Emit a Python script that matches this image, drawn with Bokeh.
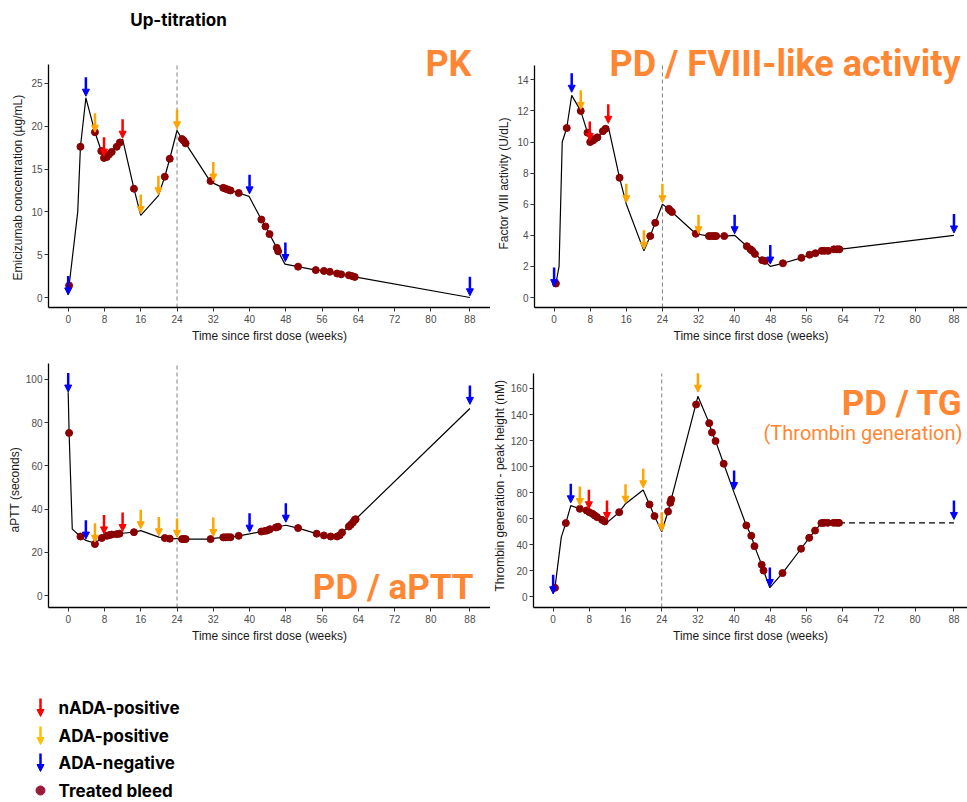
from bokeh.plotting import figure
from bokeh.layouts import column, row
from bokeh.models import Range1d, FixedTicker, Label, Arrow, NormalHead, ColumnDataSource, Title
from bokeh.embed import file_html
from bokeh.resources import INLINE

# ------------------------------------------------------------------ data
week_ticks = [0, 8, 16, 24, 32, 40, 48, 56, 64, 72, 80, 88.6]
week_tick_labels = ["0", "8", "16", "24", "32", "40", "48", "56", "64", "72", "80", "88"]
uptitration_end = 24

# PK (emicizumab concentration, ug/mL)
pk_line_x = [0, 0.2, 2.1, 2.7, 3.9, 5.9, 7.3, 7.9, 8.5, 9.0, 9.6, 10.7, 11.4, 12.0, 14.5, 16, 19.9, 21.3, 22.4, 24,
             25.1, 25.5, 25.9, 31.4, 34.2, 34.7, 35.2, 35.8, 37.6, 39.9, 42.6, 43.5, 44.4, 46.0, 46.3, 47.8, 50.7,
             54.6, 56.4, 57.7, 59.3, 60.2, 61.9, 62.6, 63.2, 88.6]
pk_line_y = [0.3, 1.4, 10, 17.6, 23.3, 19.3, 17.1, 16.3, 16.4, 16.7, 17.0, 17.6, 18.1, 18.5, 12.7, 9.6, 11.9, 14.1, 16.2,
             19.5, 18.5, 18.3, 18.0, 13.5, 12.8, 12.7, 12.6, 12.5, 12.2, 11.8, 9.1, 8.3, 7.4, 5.8, 5.4, 3.9, 3.6,
             3.2, 3.1, 3.0, 2.8, 2.7, 2.6, 2.5, 2.4, 0.0]
pk_bleed_x = [0.2, 2.7, 5.9, 7.3, 7.9, 8.5, 9.0, 9.6, 10.7, 11.4, 14.5, 21.3, 22.4, 25.1, 25.5, 25.9, 31.4, 34.2,
              34.7, 35.2, 35.8, 37.6, 42.6, 43.5, 44.4, 46.0, 46.3, 50.7, 54.6, 56.4, 57.7, 59.3, 60.2, 61.9,
              62.6, 63.2]
pk_bleed_y = [1.4, 17.6, 19.3, 17.1, 16.3, 16.4, 16.7, 17.0, 17.6, 18.1, 12.7, 14.1, 16.2, 18.5, 18.3, 18.0, 13.6,
              12.8, 12.7, 12.6, 12.5, 12.2, 9.1, 8.3, 7.4, 5.8, 5.4, 3.6, 3.2, 3.1, 3.0, 2.8, 2.7, 2.6, 2.5, 2.4]
pk_nada_x, pk_nada_y = [7.9, 12.0], [16.5, 18.6]
pk_adapos_x, pk_adapos_y = [5.9, 16, 19.9, 24, 32], [19.3, 9.8, 12.0, 19.7, 13.6]
pk_adaneg_x, pk_adaneg_y = [0, 3.9, 40, 47.9, 88.6], [0.3, 23.5, 12.1, 4.2, 0.2]

# PD / FVIII-like activity (U/dL)
f8_line_x = [0, 0.4, 1.1, 1.8, 2.8, 3.9, 5.9, 7.4, 8.0, 8.6, 9.0, 9.6, 10.8, 11.4, 12, 14.5, 16, 19.9, 21.3, 22.4,
             24, 25.4, 25.7, 26.1, 31.4, 34.3, 34.9, 35.4, 35.9, 37.7, 40, 42.7, 43.5, 43.9, 44.5, 46.1, 46.7,
             47.9, 50.7, 54.8, 56.6, 57.9, 59.3, 59.9, 60.7, 62.0, 62.7, 63.2, 88.6]
f8_line_y = [0.7, 0.9, 2.0, 10.0, 10.9, 13.0, 12.0, 10.6, 10.0, 10.1, 10.2, 10.3, 10.7, 10.85, 11.0, 7.7, 6.0, 3.0,
             3.95, 4.8, 6.0, 5.7, 5.6, 5.5, 4.1, 3.95, 3.95, 3.95, 3.95, 3.95, 4.0, 3.3, 3.1, 3.0, 2.8, 2.4, 2.35,
             2.0, 2.2, 2.55, 2.75, 2.85, 3.0, 3.0, 3.0, 3.1, 3.1, 3.1, 4.0]
f8_bleed_x = [0.4, 2.8, 5.9, 7.4, 8.0, 8.6, 9.0, 9.6, 10.8, 11.4, 14.5, 21.3, 22.4, 25.4, 25.7, 26.1, 31.4, 34.3,
              34.9, 35.4, 35.9, 37.7, 42.7, 43.5, 43.9, 44.5, 46.1, 46.7, 50.7, 54.8, 56.6, 57.9, 59.3, 59.9,
              60.7, 62.0, 62.7, 63.2]
f8_bleed_y = [0.9, 10.9, 12.0, 10.6, 10.0, 10.1, 10.2, 10.3, 10.7, 10.85, 7.7, 3.95, 4.8, 5.7, 5.6, 5.5, 4.1, 3.95,
              3.95, 3.95, 3.95, 3.95, 3.3, 3.1, 3.0, 2.8, 2.4, 2.35, 2.2, 2.55, 2.75, 2.85, 3.0, 3.0, 3.0, 3.1,
              3.1, 3.1]
f8_nada_x, f8_nada_y = [7.9, 12], [10.1, 11.2]
f8_adapos_x, f8_adapos_y = [5.9, 16, 19.9, 24, 32], [12.1, 6.1, 3.1, 6.1, 4.1]
f8_adaneg_x, f8_adaneg_y = [0, 3.9, 40, 47.9, 88.6], [0.7, 13.2, 4.1, 2.15, 4.15]

# PD / aPTT (seconds)
ap_line_x = [0, 0.2, 0.9, 2.7, 3.9, 5.9, 7.4, 7.9, 8.5, 9.0, 9.6, 10.7, 11.3, 12, 14.5, 16, 20, 21.3, 22.4, 24,
             25.1, 25.5, 25.9, 31.4, 32, 34.2, 34.7, 35.2, 35.8, 37.6, 40, 42.6, 43.4, 43.9, 44.5, 45.8, 46.3, 48,
             50.7, 54.8, 56.4, 57.9, 59.3, 59.9, 60.4, 61.9, 62.3, 62.8, 63.2, 63.4, 88.6]
ap_line_y = [94.0, 75.2, 30.7, 27.3, 25.5, 24.2, 26.6, 27.2, 27.6, 27.9, 28.2, 28.4, 28.6, 28.8, 29.3, 30.0, 27.0,
             26.6, 26.3, 26.3, 26.1, 26.1, 26.1, 26.1, 26.4, 26.9, 26.9, 27.0, 27.0, 27.6, 28.5, 29.6, 29.9, 30.1,
             30.7, 31.5, 31.8, 32.5, 31.2, 28.6, 27.8, 27.3, 27.3, 27.9, 29.2, 31.9, 32.7, 33.8, 35.0, 35.3, 86.5]
ap_bleed_x = [0.2, 2.7, 5.9, 7.4, 8.5, 9.0, 9.6, 10.7, 11.3, 14.5, 21.3, 22.4, 25.1, 25.5, 25.9, 31.4, 34.2, 34.7,
              35.2, 35.8, 37.6, 42.6, 43.4, 43.9, 44.5, 45.8, 46.3, 50.7, 54.8, 56.4, 57.9, 59.3, 59.9, 60.4,
              61.9, 62.3, 62.8, 63.2, 63.4]
ap_bleed_y = [75.2, 27.3, 23.8, 26.6, 27.6, 27.9, 28.2, 28.4, 28.6, 29.3, 26.6, 26.3, 26.1, 26.1, 26.1, 26.1, 26.9,
              26.9, 27.0, 27.0, 27.6, 29.6, 29.9, 30.1, 30.7, 31.5, 31.8, 31.2, 28.6, 27.8, 27.3, 27.3, 27.9, 29.2,
              31.9, 32.7, 33.8, 35.0, 35.3]
ap_nada_x, ap_nada_y = [7.9, 12], [28.5, 29.6]
ap_adapos_x, ap_adapos_y = [5.9, 16, 20, 24, 32], [24.7, 30.9, 27.6, 26.9, 27.3]
ap_adaneg_x, ap_adaneg_y = [0, 3.9, 40, 48, 88.6], [94.1, 26.1, 29.3, 33.9, 88.4]

# PD / TG (thrombin generation peak height, nM)
tg_line_x = [0, 0.4, 1.8, 2.8, 3.9, 5.9, 7.4, 8.0, 8.7, 9.2, 9.7, 10.8, 11.4, 11.9, 14.6, 16, 19.9, 21.3, 22.4, 24,
             25.4, 25.9, 26.1, 32, 34.5, 35.1, 35.9, 37.7, 40, 42.7, 43.8, 44.5, 46.1, 46.5, 47.9, 50.7, 54.8,
             56.6, 57.9, 59.3, 59.9, 60.7, 62.0, 62.7, 63.2]
tg_line_y = [2.3, 6.9, 45.8, 56.6, 70.0, 67.6, 66.3, 65.0, 63.7, 62.5, 61.2, 59.1, 57.9, 57.0, 65.0, 71.5, 82.0,
             70.9, 62.0, 50.0, 65.5, 72.2, 74.8, 154.0, 133.4, 126.2, 119.6, 102.2, 80.0, 54.8, 46.9, 38.9, 24.6,
             20.2, 7.0, 18.2, 36.9, 45.3, 50.9, 56.6, 56.8, 56.8, 56.8, 56.8, 56.8]
tg_carry_x = [63.2, 88.6]
tg_carry_y = [56.8, 56.8]
tg_bleed_x = [0.4, 2.8, 5.9, 7.4, 8.0, 8.7, 9.2, 9.7, 10.8, 11.4, 14.6, 21.3, 22.4, 25.4, 25.9, 26.1, 31.6, 34.5,
              35.1, 35.9, 37.7, 42.7, 43.8, 44.5, 46.1, 46.5, 50.7, 54.8, 56.6, 57.9, 59.3, 59.9, 60.7, 62.0,
              62.7, 63.2]
tg_bleed_y = [6.9, 56.6, 67.6, 66.3, 65.0, 63.7, 62.5, 61.2, 59.1, 57.9, 65.0, 70.9, 62.0, 65.5, 72.2, 74.8, 147.7,
              133.4, 126.2, 119.6, 102.2, 54.8, 46.9, 38.9, 24.6, 20.2, 18.2, 36.9, 45.3, 50.9, 56.6, 56.8, 56.8,
              56.8, 56.8, 56.8]
tg_nada_x, tg_nada_y = [7.9, 11.9], [67.6, 59.4]
tg_adapos_x, tg_adapos_y = [5.9, 16, 19.9, 24, 32], [70.1, 71.9, 83.7, 50.4, 157.2]
tg_adaneg_x, tg_adaneg_y = [0, 3.9, 40, 47.9, 88.6], [2.3, 72.2, 82.4, 7.9, 59.4]

legend_labels = ["nADA-positive", "ADA-positive", "ADA-negative", "Treated bleed"]

# ------------------------------------------------------------------ style
ORANGE = "#FF8633"
C_NADA, C_ADAPOS, C_ADANEG, C_BLEED = "#FF0000", "#FFA500", "#0000FF", "#8B0000"
LEG_COLORS = ["#FF0000", "#FFC000", "#0000FF", "#9B1B3A"]
TICK_FONT = "Liberation Sans"


def make_panel(left, fl, fr, top, ft, fb, bottom, x0px, ppw, y0px, ppu, yticks, ylabel,
               ylab_offset, ylab_standoff):
    """Panel occupying page px from `left`; frame fl..fr (x) and top..fb (y).
    The axis line is limited to [ft, fb]; the frame extends up to `top` so titles fit."""
    bl = fl - left
    fw = fr - fl
    fh = fb - top
    xr = ((fl - x0px) / ppw, (fr - x0px) / ppw)
    yr = ((y0px - fb) / ppu, (y0px - top) / ppu)
    ybound_hi = (y0px - ft) / ppu
    p = figure(width=bl + fw, height=fh + bottom,
               x_range=Range1d(*xr), y_range=Range1d(*yr),
               min_border_left=bl, min_border_right=0, min_border_top=0, min_border_bottom=bottom,
               output_backend="svg", toolbar_location=None, title=None)
    p.outline_line_color = None
    p.grid.visible = False
    for ax in (p.xaxis[0], p.yaxis[0]):
        ax.axis_line_color = "black"
        ax.axis_line_width = 1.3
        ax.major_tick_line_color = "#333333"
        ax.major_tick_out = 4
        ax.major_tick_in = 0
        ax.minor_tick_out = 0
        ax.minor_tick_in = 0
        ax.major_label_text_font = TICK_FONT
        ax.major_label_text_font_size = "10px"
        ax.major_label_text_color = "#4D4D4D"
        ax.axis_label_text_font = TICK_FONT
        ax.axis_label_text_font_size = "12px"
        ax.axis_label_text_font_style = "normal"
        ax.axis_label_text_color = "#1A1A1A"
    p.xaxis.ticker = FixedTicker(ticks=week_ticks)
    p.xaxis.major_label_overrides = {t: l for t, l in zip(week_ticks, week_tick_labels)}
    p.xaxis.axis_label = "Time since first dose (weeks)"
    p.xaxis.major_label_standoff = 3
    p.xaxis.axis_label_standoff = 3
    p.yaxis.ticker = FixedTicker(ticks=yticks)
    p.yaxis.bounds = (yr[0], ybound_hi)
    p.yaxis.major_label_standoff = 2
    p.add_layout(Title(text=ylabel, align="left", offset=ylab_offset, standoff=ylab_standoff,
                       vertical_align="bottom", text_font=TICK_FONT, text_font_size="12px",
                       text_font_style="normal", text_color="#1A1A1A"), "left")
    p.segment(x0=[uptitration_end], y0=[yr[0]], x1=[uptitration_end], y1=[ybound_hi],
              line_color="#808080", line_dash="4 3", line_width=1)
    p._geom = (fl, top, fw, fh, xr, yr)
    return p


def add_arrows(p, xs, ys, color, shaft_px=19):
    fl, top, fw, fh, xr, yr = p._geom
    upp = (yr[1] - yr[0]) / fh
    src = ColumnDataSource(dict(x=xs, y=ys, y0=[v + shaft_px * upp for v in ys]))
    p.add_layout(Arrow(end=NormalHead(size=7, fill_color=color, line_color=color, line_width=1),
                       x_start="x", y_start="y0", x_end="x", y_end="y", source=src,
                       line_color=color, line_width=2.5))


def draw_series(p, lx, ly, bx, by, arrows):
    p.line(lx, ly, line_color="black", line_width=1.2)
    p.scatter(bx, by, size=7, fill_color=C_BLEED, line_color=C_BLEED)
    for (xs, ys), c in zip(arrows, (C_NADA, C_ADAPOS, C_ADANEG)):
        add_arrows(p, xs, ys, c)


def title(p, px, py, text, size, style="bold", align="right", font="Roboto", color=ORANGE,
          baseline="alphabetic"):
    fl, top, fw, fh, xr, yr = p._geom
    x = xr[0] + (px - fl) / fw * (xr[1] - xr[0])
    y = yr[0] + (top + fh - py) / fh * (yr[1] - yr[0])
    p.add_layout(Label(x=x, y=y, text=text, text_align=align, text_baseline=baseline,
                       text_font=font, text_font_size=size, text_font_style=style, text_color=color))


PPW = 4.534          # px per week
X0_L, X0_R = 67.7, 551.7

p1 = make_panel(0, 48, 490, 0, 64, 307, 43, X0_L, PPW, 297.0, 8.565, [0, 5, 10, 15, 20, 25],
                "Emicizumab concentration (\u00b5g/mL)", 27, 8)
draw_series(p1, pk_line_x, pk_line_y, pk_bleed_x, pk_bleed_y,
            [(pk_nada_x, pk_nada_y), (pk_adapos_x, pk_adapos_y), (pk_adaneg_x, pk_adaneg_y)])
title(p1, 178, 19, "Up-titration", "17px", font="Inter", color="black", align="center", baseline="middle")
title(p1, 471, 63, "PK", "36px")

p2 = make_panel(490, 532, 967, 0, 65, 307, 43, X0_R, PPW, 297.0, 15.548, [0, 2, 4, 6, 8, 10, 12, 14],
                "Factor VIII activity (U/dL)", 58, 8)
draw_series(p2, f8_line_x, f8_line_y, f8_bleed_x, f8_bleed_y,
            [(f8_nada_x, f8_nada_y), (f8_adapos_x, f8_adapos_y), (f8_adaneg_x, f8_adaneg_y)])
title(p2, 960, 63, "PD / FVIII-like activity", "36px")

p3 = make_panel(0, 48, 490, 350, 363, 608, 42, X0_L, PPW, 596.0, 2.171, [0, 20, 40, 60, 80, 100],
                "aPTT (seconds)", 75, 1)
draw_series(p3, ap_line_x, ap_line_y, ap_bleed_x, ap_bleed_y,
            [(ap_nada_x, ap_nada_y), (ap_adapos_x, ap_adapos_y), (ap_adaneg_x, ap_adaneg_y)])
title(p3, 473, 588, "PD / aPTT", "35px")

p4 = make_panel(490, 532, 967, 350, 373, 607, 43, X0_R, PPW, 596.3, 1.3019,
                [0, 20, 40, 60, 80, 100, 120, 140, 160], "Thrombin generation - peak height (nM)", 16, 1)
p4.line(tg_carry_x, tg_carry_y, line_color="black", line_width=1.2, line_dash="6 4")
draw_series(p4, tg_line_x, tg_line_y, tg_bleed_x, tg_bleed_y,
            [(tg_nada_x, tg_nada_y), (tg_adapos_x, tg_adapos_y), (tg_adaneg_x, tg_adaneg_y)])
title(p4, 962, 403, "PD / TG", "35px")
title(p4, 962, 432, "(Thrombin generation)", "20px", style="normal")

# ------------------------------------------------------------------ legend
LEG_TOP = 650
leg = figure(width=967, height=150, x_range=Range1d(0, 967), y_range=Range1d(150, 0),
             min_border=0, output_backend="svg", toolbar_location=None, title=None,
             x_axis_location=None, y_axis_location=None)
leg.outline_line_color = None
leg.grid.visible = False
centers = [707, 735, 762, 790]
for i, (lab, col) in enumerate(zip(legend_labels, LEG_COLORS)):
    cy = centers[i] - LEG_TOP
    if i < 3:
        src = ColumnDataSource(dict(x=[40], y0=[cy - 9], y1=[cy + 9]))
        leg.add_layout(Arrow(end=NormalHead(size=7, fill_color=col, line_color=col, line_width=1),
                             x_start="x", y_start="y0", x_end="x", y_end="y1", source=src,
                             line_color=col, line_width=2.5))
    else:
        leg.scatter([40], [cy], size=9, fill_color=col, line_color=col)
    leg.add_layout(Label(x=58, y=cy, text=lab, text_align="left", text_baseline="middle",
                         text_font="Inter", text_font_size="17px", text_font_style="bold",
                         text_color="black"))

layout = column(row(p1, p2), row(p3, p4), leg)
open("out.html", "w").write(file_html(layout, INLINE))
